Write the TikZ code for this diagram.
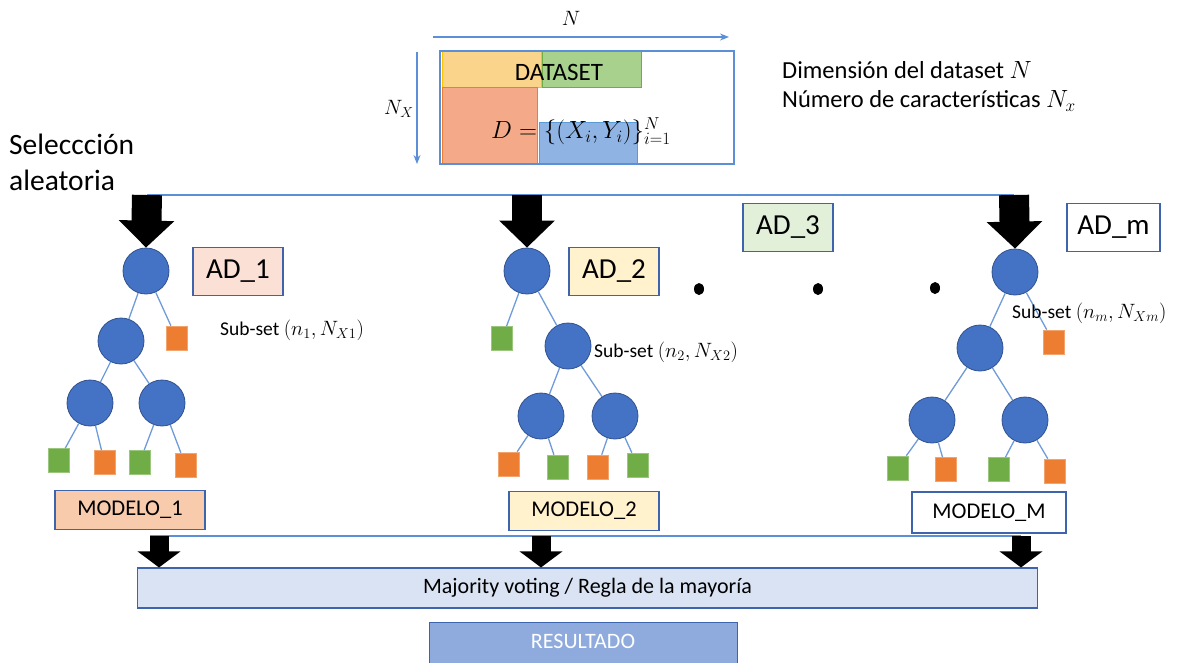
\documentclass[tikz,border=0pt]{standalone}
\usepackage{fontspec}
\setmainfont{Carlito}
\usetikzlibrary{arrows.meta,shapes.geometric}
\definecolor{nodeblue}{HTML}{4472C4}
\definecolor{nodeborder}{HTML}{2F528F}
\definecolor{edgeblue}{HTML}{6F9BDA}
\definecolor{leafgreen}{HTML}{70AD47}
\definecolor{leaforange}{HTML}{ED7D31}
\definecolor{boxborder}{HTML}{3E64AE}
\definecolor{pinkfill}{HTML}{FBE0D6}
\definecolor{salmonfill}{HTML}{F8CBAD}
\definecolor{creamfill}{HTML}{FFF2CC}
\definecolor{mintfill}{HTML}{E2F0D9}
\definecolor{majfill}{HTML}{DAE3F3}
\definecolor{resfill}{HTML}{8FAADC}
\definecolor{dsyellow}{HTML}{FAD48A}
\definecolor{dsyellowb}{HTML}{FFC000}
\definecolor{dsgreen}{HTML}{A9D18E}
\definecolor{dssalmon}{HTML}{F4AA88}
\definecolor{dsblue}{HTML}{8FB4E3}
\definecolor{dsblueb}{HTML}{5B9BD5}
\definecolor{outline}{HTML}{5B8FD8}
\newcommand{\submath}[1]{{\fontsize{21.5}{25}\selectfont$#1$}}
\tikzset{
  inner/.style={circle, fill=nodeblue, draw=nodeborder, line width=0.8pt, minimum size=46pt, inner sep=0pt},
  gleaf/.style={rectangle, fill=leafgreen, draw=leafgreen!70!white, line width=0.6pt, minimum width=21pt, minimum height=24pt, inner sep=0pt},
  oleaf/.style={rectangle, fill=leaforange, draw=leaforange!70!white, line width=0.6pt, minimum width=21pt, minimum height=24pt, inner sep=0pt},
  edge/.style={draw=edgeblue, line width=1.3pt},
  adbox/.style={draw=boxborder, line width=1.1pt, minimum width=90pt, minimum height=48pt, inner sep=0pt, font=\fontsize{29}{33}\selectfont},
  modbox/.style={draw=boxborder, line width=1.1pt, minimum width=150pt, minimum height=39pt, inner sep=0pt, font=\fontsize{22.5}{26}\selectfont},
  subset/.style={anchor=west, inner sep=0pt, font=\fontsize{19.5}{23}\selectfont},
  bigarrow/.style={black, line width=30pt, -{Triangle[width=54pt,length=27pt]}},
  smallarrow/.style={black, line width=19pt, -{Triangle[width=42pt,length=16pt]}},
  blueline/.style={draw=outline, line width=1.3pt},
  dot/.style={ellipse, fill=black, minimum width=10pt, minimum height=12pt, inner sep=0pt},
}
\begin{document}
\begin{tikzpicture}[x=1pt,y=-1pt]
\useasboundingbox (0,0) rectangle (1188,662);

% ---------- dataset ----------
\fill[dsyellow] (442,51) rectangle (541,87);
\draw[dsyellowb, line width=0.8pt] (442,51) rectangle (541,87);
\fill[dsgreen] (542,51) rectangle (641,87);
\draw[leafgreen, line width=0.8pt] (542,51) rectangle (641,87);
\fill[dssalmon] (442,87) rectangle (537,164);
\draw[leaforange, line width=0.8pt] (442,87) rectangle (537,164);
\fill[dsblue] (539,122) rectangle (637,164);
\draw[dsblueb, line width=0.8pt] (539,122) rectangle (637,164);
\draw[outline, line width=1.1pt] (440,51) rectangle (734,164);
\node[font=\fontsize{25}{29}\selectfont, inner sep=0pt] (dstext) at (559,72) {DATASET};
\node[font=\fontsize{25}{29}\selectfont, inner sep=0pt, anchor=west] (dform) at (491,131) {$D=\{(X_i,Y_i)\}_{i=1}^{N}$};
\coordinate (nA) at (433,37);
\coordinate (nB) at (729,37);
\draw[outline, line width=1.1pt, -{Stealth[length=9pt,width=7pt]}] (nA) -- (nB);
\node[font=\fontsize{21}{25}\selectfont, inner sep=0pt] (nlab) at (571,18) {$N$};
\coordinate (vA) at (417,52);
\coordinate (vB) at (417,164);
\draw[outline, line width=1.1pt, -{Stealth[length=9pt,width=7pt]}] (vA) -- (vB);
\node[font=\fontsize{21}{25}\selectfont, inner sep=0pt] (nxlab) at (399,109) {$N_X$};

\node[anchor=west, inner sep=0pt, font=\fontsize{24.5}{28}\selectfont] (dim1) at (782,70) {Dimensión del dataset $N$};
\node[anchor=west, inner sep=0pt, font=\fontsize{24.5}{28}\selectfont] (dim2) at (782,101) {Número de características $N_x$};

\node[anchor=west, inner sep=0pt, font=\fontsize{29.5}{34}\selectfont] (sel1) at (9,144) {Seleccción};
\node[anchor=west, inner sep=0pt, font=\fontsize{29.5}{34}\selectfont] (sel2) at (9,180) {aleatoria};

% ---------- top distribution line ----------
\coordinate (t1) at (147,195);
\coordinate (t2) at (527,195);
\coordinate (tm) at (1014,195);
\draw[blueline] (t1) -- (tm);

% ---------- tree 1 ----------
\node[inner] (r1) at (146,271) {};
\node[inner] (c1) at (121,341) {};
\node[oleaf] (o1) at (176.5,338) {};
\node[inner] (c11) at (90,403) {};
\node[inner] (c12) at (162,403) {};
\node[gleaf] (l11) at (58.5,460.5) {};
\node[oleaf] (l12) at (104.5,462.5) {};
\node[gleaf] (l13) at (139.5,462.5) {};
\node[oleaf] (l14) at (185.5,465) {};
\draw[edge] (r1) -- (c1);
\draw[edge] (r1) -- (o1);
\draw[edge] (c1) -- (c11);
\draw[edge] (c1) -- (c12);
\draw[edge] (c11) -- (l11);
\draw[edge] (c11) -- (l12);
\draw[edge] (c12) -- (l13);
\draw[edge] (c12) -- (l14);
\node[adbox, fill=pinkfill] (ad1) at (238,271.5) {AD\_1};
\node[subset] (s1) at (220,330) {Sub-set \submath{(n_1,N_{X1})}};
\node[modbox, fill=salmonfill] (m1) at (130,510) {MODELO\_1};

% ---------- tree 2 ----------
\node[inner] (r2) at (527,271) {};
\node[gleaf] (g2) at (502,338.5) {};
\node[inner] (c2) at (568,346) {};
\node[inner] (c21) at (541,416) {};
\node[inner] (c22) at (615,416) {};
\node[oleaf] (l21) at (509,464) {};
\node[gleaf] (l22) at (558,467) {};
\node[oleaf] (l23) at (597.5,467) {};
\node[gleaf] (l24) at (637.5,465) {};
\draw[edge] (r2) -- (g2);
\draw[edge] (r2) -- (c2);
\draw[edge] (c2) -- (c21);
\draw[edge] (c2) -- (c22);
\draw[edge] (c21) -- (l21);
\draw[edge] (c21) -- (l22);
\draw[edge] (c22) -- (l23);
\draw[edge] (c22) -- (l24);
\node[adbox, fill=creamfill] (ad2) at (614,271.5) {AD\_2};
\node[subset] (s2) at (594,352) {Sub-set \submath{(n_2,N_{X2})}};
\node[modbox, fill=creamfill] (m2) at (584,511) {MODELO\_2};

% ---------- AD_3 and dots ----------
\node[adbox, fill=mintfill] (ad3) at (788,227.5) {AD\_3};
\node[dot] (d1) at (699,289) {};
\node[dot] (d2) at (818,289) {};
\node[dot] (d3) at (935,288) {};

% ---------- tree m ----------
\node[inner] (rm) at (1015,272) {};
\node[inner] (cm) at (980,348) {};
\node[oleaf] (om) at (1053.5,342) {};
\node[inner] (cm1) at (932,420) {};
\node[inner] (cm2) at (1025,420) {};
\node[gleaf] (lm1) at (897.5,468) {};
\node[oleaf] (lm2) at (946,469.5) {};
\node[gleaf] (lm3) at (999,469.5) {};
\node[oleaf] (lm4) at (1055,471) {};
\draw[edge] (rm) -- (cm);
\draw[edge] (rm) -- (om);
\draw[edge] (cm) -- (cm1);
\draw[edge] (cm) -- (cm2);
\draw[edge] (cm1) -- (lm1);
\draw[edge] (cm1) -- (lm2);
\draw[edge] (cm2) -- (lm3);
\draw[edge] (cm2) -- (lm4);
\node[adbox, fill=white, minimum width=93pt] (adm) at (1113.5,227.5) {AD\_m};
\node[subset] (sm) at (1012,313) {Sub-set \submath{(n_m,N_{Xm})}};
\node[modbox, fill=white, minimum width=154pt, minimum height=41pt] (mm) at (989,512.5) {MODELO\_M};

% ---------- big arrows ----------
\draw[bigarrow] (t1) -- (r1.north);
\draw[bigarrow] (t2) -- (r2.north);
\draw[bigarrow] (tm) -- (rm.north);

% ---------- bottom ----------
\node[draw=boxborder, line width=1.1pt, fill=majfill, minimum width=900pt, minimum height=40pt, inner sep=0pt, font=\fontsize{22}{26}\selectfont] (maj) at (587.5,588) {Majority voting / Regla de la mayoría};
\coordinate (b1) at (159,536);
\coordinate (b2) at (541,536);
\coordinate (bm) at (1021,536);
\draw[blueline] (150,536) -- (bm);
\draw[smallarrow] (b1) -- (b1 |- maj.north);
\draw[smallarrow] (b2) -- (b2 |- maj.north);
\draw[smallarrow] (bm) -- (bm |- maj.north);
\node[draw=boxborder, line width=1.1pt, fill=resfill, minimum width=308pt, minimum height=50pt, inner sep=0pt, anchor=north west] (res) at (429,622) {};
\node[text=white, inner sep=0pt, font=\fontsize{22}{26}\selectfont] (restext) at (583,641) {RESULTADO};
\end{tikzpicture}
\end{document}
